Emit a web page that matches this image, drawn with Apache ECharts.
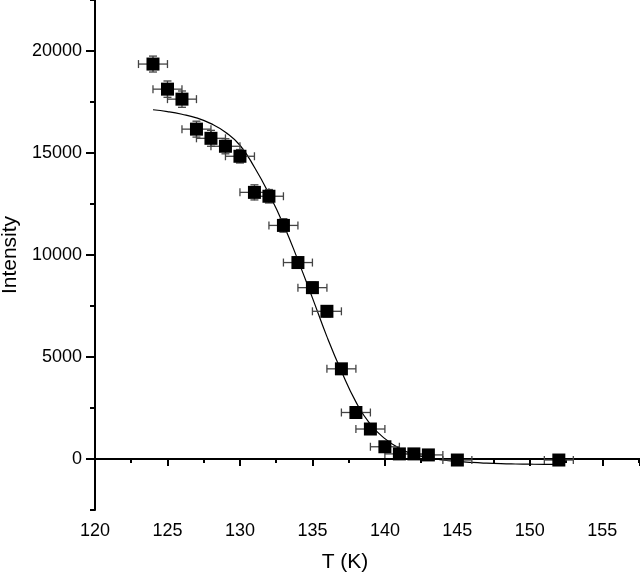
<!DOCTYPE html>
<html>
<head>
<meta charset="utf-8">
<script src="https://cdn.jsdelivr.net/npm/echarts@6/dist/echarts.min.js"></script>
<style>
html,body{margin:0;padding:0;background:#fff;}
#main{width:640px;height:576px;}
</style>
</head>
<body>
<div id="main"></div>
<script>
// measured points
var temps = [124,125,126,127,128,129,130,131,132,133,134,135,136,137,138,139,140,141,142,143,145,152];
var intensity = [19360,18130,17640,16170,15720,15330,14840,13070,12880,11450,9630,8400,7240,4420,2280,1470,600,250,250,200,-50,-50];
var tempErr = [1,1,1,1,1,1,1,1,1,1,1,1,1,1,1,1,1,1,1,1,1,1];
var intensityErr = [390,400,400,390,390,370,330,370,330,330,270,270,270,200,150,150,120,100,100,100,100,100];

// fitted curve
var fitT = [124,125,126,127,128,129,130,131,132,133,134,135,136,137,138,139,140,141,142,143,144,145,146,147,148,149,150,151,152];
var fitI = [17120,17030,16900,16720,16440,16020,15380,14300,13000,11500,9750,7900,6000,4300,2800,1700,1000,520,230,60,-50,-120,-170,-205,-230,-245,-255,-260,-260];

var xTicks = [120,125,130,135,140,145,150,155];
var yTicks = [0,5000,10000,15000,20000];

var font = 'Liberation Sans, Arial, sans-serif';
var points = temps.map(function(t,i){ return [t, intensity[i], tempErr[i], intensityErr[i]]; });
var fit = fitT.map(function(t,i){ return [t, fitI[i]]; });

var chart = echarts.init(document.getElementById('main'));
var option = {
  animation: false,
  grid: { left: 95, right: 0, top: 0, bottom: 66, outerBoundsMode: 'none' },
  xAxis: {
    type: 'value', min: 120, max: 157.6, interval: 5,
    name: 'T (K)', nameLocation: 'middle', nameGap: 42,
    nameTextStyle: { fontFamily: font, fontSize: 21, color: '#000', padding: [0, 45, 0, 0] },
    axisLine: { lineStyle: { color: '#000', width: 2 } },
    axisTick: { inside: false, length: 7, lineStyle: { color: '#000', width: 2 } },
    minorTick: { show: true, splitNumber: 2, length: 4, lineStyle: { color: '#000', width: 2 } },
    axisLabel: { fontFamily: font, fontSize: 18, color: '#000', margin: 12,
      formatter: function(v){ return xTicks.indexOf(v) >= 0 ? String(v) : ''; } },
    splitLine: { show: false }
  },
  yAxis: [{
    type: 'value', min: -2500, max: 22500, interval: 2500,
    name: 'Intensity', nameLocation: 'middle', nameGap: 74,
    nameTextStyle: { fontFamily: font, fontSize: 21, color: '#000' },
    axisLine: { show: true, lineStyle: { color: '#000', width: 2 } },
    axisTick: { show: true, length: 9, customValues: yTicks, lineStyle: { color: '#000', width: 2 } },
    axisLabel: { fontFamily: font, fontSize: 18, color: '#000', margin: 13, customValues: yTicks,
      formatter: function(v){ return String(v); } },
    splitLine: { show: false }
  }, {
    type: 'value', min: -2500, max: 22500, interval: 2500, position: 'left',
    axisLine: { show: false },
    axisTick: { show: true, length: 5, lineStyle: { color: '#000', width: 2 } },
    axisLabel: { show: false },
    splitLine: { show: false }
  }],
  series: [{
    type: 'line', data: fit, smooth: 0.5, showSymbol: false, symbol: 'none',
    lineStyle: { color: '#000', width: 1.2 }, z: 2
  }, {
    type: 'custom', data: points, z: 3,
    renderItem: function(params, api){
      var x = api.value(0), y = api.value(1), ex = api.value(2), ey = api.value(3);
      var l = api.coord([x - ex, y]), r = api.coord([x + ex, y]);
      var t = api.coord([x, y + ey]), b = api.coord([x, y - ey]);
      var st = { stroke: '#444', lineWidth: 1.3 };
      var cap = 4;
      return { type: 'group', children: [
        { type: 'line', shape: { x1: l[0], y1: l[1], x2: r[0], y2: r[1] }, style: st },
        { type: 'line', shape: { x1: l[0], y1: l[1] - cap, x2: l[0], y2: l[1] + cap }, style: st },
        { type: 'line', shape: { x1: r[0], y1: r[1] - cap, x2: r[0], y2: r[1] + cap }, style: st },
        { type: 'line', shape: { x1: t[0], y1: t[1], x2: b[0], y2: b[1] }, style: st },
        { type: 'line', shape: { x1: t[0] - cap, y1: t[1], x2: t[0] + cap, y2: t[1] }, style: st },
        { type: 'line', shape: { x1: b[0] - cap, y1: b[1], x2: b[0] + cap, y2: b[1] }, style: st }
      ] };
    }
  }, {
    type: 'scatter', data: points, symbol: 'rect', symbolSize: 13,
    itemStyle: { color: '#000', opacity: 1 }, z: 4
  }]
};
chart.setOption(option);
</script>
</body>
</html>
